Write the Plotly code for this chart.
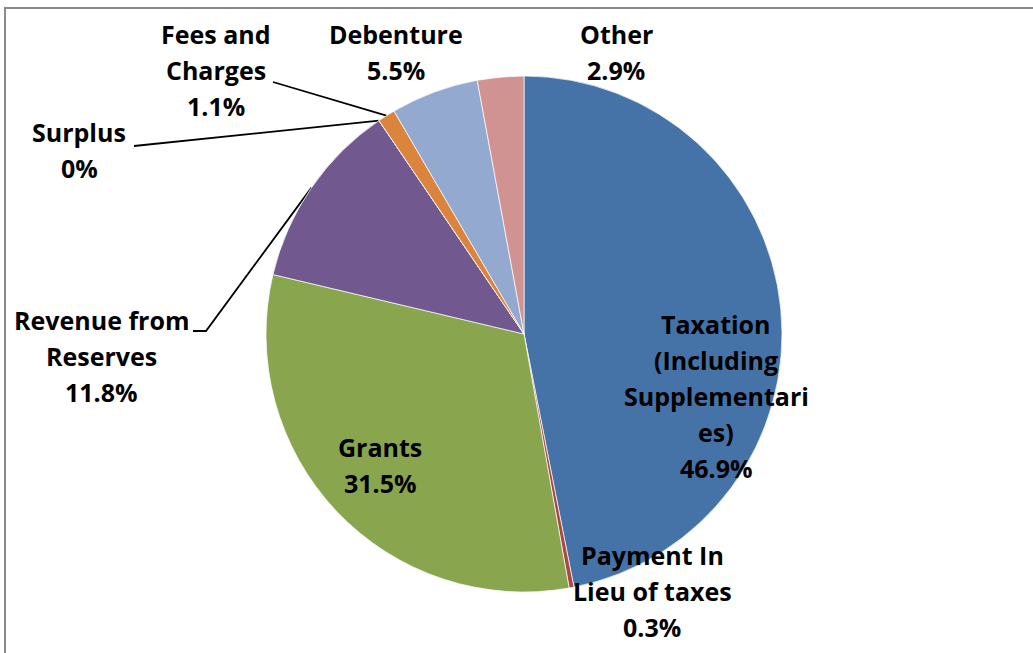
import math
import plotly.graph_objects as go

# ---- data -------------------------------------------------------------
categories = [
    "Taxation (Including Supplementaries)",
    "Payment In Lieu of taxes",
    "Grants",
    "Revenue from Reserves",
    "Surplus",
    "Fees and Charges",
    "Debenture",
    "Other",
]
shares = [46.9, 0.3, 31.5, 11.8, 0.0, 1.1, 5.5, 2.9]
label_names = [
    ["Taxation", "(Including", "Supplementari", "es)"],
    ["Payment In", "Lieu of taxes"],
    ["Grants"],
    ["Revenue from", "Reserves"],
    ["Surplus"],
    ["Fees and", "Charges"],
    ["Debenture"],
    ["Other"],
]
colors = ["#4572A7", "#AA4643", "#89A54E", "#71588F",
          "#4198AF", "#DB843D", "#93A9CF", "#D19392"]

# ---- layout constants (pixels) ------------------------------------------
W, H = 1033, 653
CX, CY, R = 524, 334, 258
LINE_GAP = 36
FONT = dict(family="Open Sans", size=25, color="black")

# label block: centre x, y of first line
label_pos = {
    "Taxation (Including Supplementaries)": (716, 324),
    "Payment In Lieu of taxes": (652, 555),
    "Grants": (380, 447),
    "Revenue from Reserves": (101, 320),
    "Surplus": (79, 132),
    "Fees and Charges": (216, 34),
    "Debenture": (396, 34),
    "Other": (616, 34),
}
# leader lines: list of start points, ending on the slice's outer edge
leaders = {
    "Revenue from Reserves": [(193, 331), (206, 331)],
    "Surplus": [(134, 146)],
    "Fees and Charges": [(273, 82)],
}

fig = go.Figure()

# pie placed so its centre and radius land on CX, CY, R
fig.add_trace(go.Pie(
    labels=categories,
    values=shares,
    sort=False,
    direction="clockwise",
    rotation=0,
    textinfo="none",
    hoverinfo="label+percent",
    marker=dict(colors=colors, line=dict(color="rgba(255,255,255,0.7)", width=1)),
    domain=dict(x=[(CX - R) / W, (CX + R) / W],
                y=[1 - (CY + R) / H, 1 - (CY - R) / H]),
    showlegend=False,
))

# slice angles (degrees clockwise from 12 o'clock)
total = sum(shares)
starts, cum = [], 0.0
for v in shares:
    starts.append(cum / total * 360)
    cum += v


def edge_point(angle_deg):
    a = math.radians(angle_deg)
    return CX + R * math.sin(a), CY - R * math.cos(a)


# leader lines drawn on a hidden pixel-space axis
for cat, pts in leaders.items():
    i = categories.index(cat)
    mid = starts[i] + shares[i] / total * 360 / 2
    ex, ey = edge_point(mid)
    xs = [p[0] for p in pts] + [ex]
    ys = [p[1] for p in pts] + [ey]
    fig.add_trace(go.Scatter(x=xs, y=ys, mode="lines",
                             line=dict(color="black", width=1.8),
                             hoverinfo="skip", showlegend=False))

# data labels, one annotation per line
annotations = []
for cat, name_lines, v in zip(categories, label_names, shares):
    lines = name_lines + [f"{v:g}%"]
    x0, y0 = label_pos[cat]
    for k, t in enumerate(lines):
        annotations.append(dict(
            x=x0, y=y0 + k * LINE_GAP, xref="x", yref="y",
            text=f"<b>{t}</b>", showarrow=False,
            xanchor="center", yanchor="middle", font=FONT,
        ))

# outer chart frame
shapes = [dict(type="rect", xref="x", yref="y", x0=5, y0=8, x1=W + 20, y1=H + 20,
               line=dict(color="#8a8a8a", width=2), fillcolor="rgba(0,0,0,0)",
               layer="below")]

fig.update_layout(
    width=W, height=H,
    margin=dict(l=0, r=0, t=0, b=0),
    paper_bgcolor="white", plot_bgcolor="rgba(0,0,0,0)",
    xaxis=dict(range=[0, W], visible=False, fixedrange=True),
    yaxis=dict(range=[H, 0], visible=False, fixedrange=True),
    annotations=annotations,
    shapes=shapes,
    font=FONT,
)

fig.write_html("out.html")
